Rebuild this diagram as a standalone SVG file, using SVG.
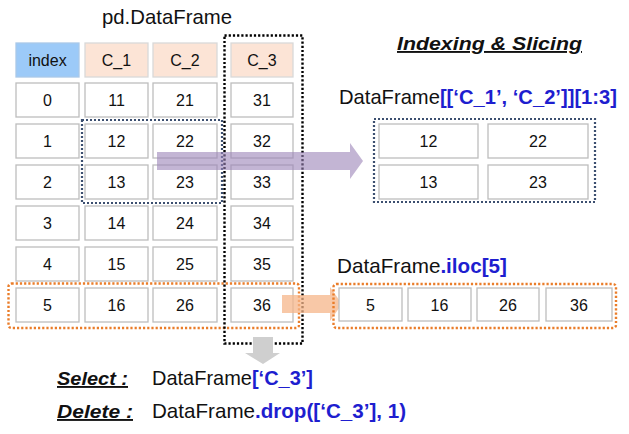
<svg xmlns="http://www.w3.org/2000/svg" width="629" height="434" viewBox="0 0 629 434">
<style>
text{font-family:"Liberation Sans",Arial,sans-serif;fill:#111}
.c rect{fill:#fff;stroke:#bdbdbd;stroke-width:1.3}
.c text{font-size:16px;text-anchor:middle}
.h rect{fill:#fce4d6;stroke:#d9d9d9;stroke-width:1.3}
.hi rect{fill:#9ccaf8;stroke:#aac8e8;stroke-width:1.3}
.lbl{font-size:21px}
.b{font-weight:bold;fill:#1e1ecf}
.bi{font-size:19px;font-weight:bold;font-style:italic;text-decoration:underline}
.dotb{fill:none;stroke:#3c4f70;stroke-width:2.2;stroke-dasharray:2 2}
.doto{fill:none;stroke:#ea7d2a;stroke-width:2.4;stroke-dasharray:2.2 2}
.dotk{fill:none;stroke:#000;stroke-width:2.4;stroke-dasharray:2.2 2}
</style>
<rect width="629" height="434" fill="#fff"/>
<text class="lbl" x="102" y="24" textLength="130" lengthAdjust="spacingAndGlyphs">pd.DataFrame</text>
<text class="bi" x="397" y="50" textLength="185" lengthAdjust="spacingAndGlyphs">Indexing &amp; Slicing</text>

<g id="table">
<g class="c hi"><rect x="16" y="43" width="63" height="34"/><text x="47.5" y="66">index</text></g>
<g class="c h"><rect x="85" y="43" width="63" height="34"/><text x="116.5" y="66">C_1</text></g>
<g class="c h"><rect x="153" y="43" width="64" height="34"/><text x="185" y="66">C_2</text></g>
<g class="c h"><rect x="231" y="43" width="62" height="34"/><text x="262" y="66">C_3</text></g>
<g class="c">
<rect x="16" y="83" width="63" height="34"/><text x="47.5" y="106">0</text>
<rect x="85" y="83" width="63" height="34"/><text x="116.5" y="106">11</text>
<rect x="153" y="83" width="64" height="34"/><text x="185" y="106">21</text>
<rect x="231" y="83" width="62" height="34"/><text x="262" y="106">31</text>
<rect x="16" y="124" width="63" height="34"/><text x="47.5" y="147">1</text>
<rect x="85" y="124" width="63" height="34"/><text x="116.5" y="147">12</text>
<rect x="153" y="124" width="64" height="34"/><text x="185" y="147">22</text>
<rect x="231" y="124" width="62" height="34"/><text x="262" y="147">32</text>
<rect x="16" y="165" width="63" height="34"/><text x="47.5" y="188">2</text>
<rect x="85" y="165" width="63" height="34"/><text x="116.5" y="188">13</text>
<rect x="153" y="165" width="64" height="34"/><text x="185" y="188">23</text>
<rect x="231" y="165" width="62" height="34"/><text x="262" y="188">33</text>
<rect x="16" y="206" width="63" height="34"/><text x="47.5" y="229">3</text>
<rect x="85" y="206" width="63" height="34"/><text x="116.5" y="229">14</text>
<rect x="153" y="206" width="64" height="34"/><text x="185" y="229">24</text>
<rect x="231" y="206" width="62" height="34"/><text x="262" y="229">34</text>
<rect x="16" y="247" width="63" height="34"/><text x="47.5" y="270">4</text>
<rect x="85" y="247" width="63" height="34"/><text x="116.5" y="270">15</text>
<rect x="153" y="247" width="64" height="34"/><text x="185" y="270">25</text>
<rect x="231" y="247" width="62" height="34"/><text x="262" y="270">35</text>
<rect x="16" y="288" width="63" height="34"/><text x="47.5" y="311">5</text>
<rect x="85" y="288" width="63" height="34"/><text x="116.5" y="311">16</text>
<rect x="153" y="288" width="64" height="34"/><text x="185" y="311">26</text>
<rect x="231" y="288" width="62" height="34"/><text x="262" y="311">36</text>
</g>
<rect class="dotb" x="82" y="120" width="140" height="83"/>
<rect class="doto" x="8.5" y="283.5" width="290.5" height="44.5" rx="3"/>
<rect class="dotk" x="224.5" y="35.5" width="78" height="308"/>
</g>

<g id="connectors">
<path d="M253,337 H273 V353 H280 L263,364 L245,353 H253 Z" fill="#cfcfcf"/>
<path d="M157,152 H350 V143 L363,161 L350,179 V170 H157 Z" fill="#9b84b8" fill-opacity="0.6"/>
<path d="M282,295 H330 V287 L342,304 L330,321 V313 H282 Z" fill="#f6b68a" fill-opacity="0.75"/>
</g>

<g id="slice">
<text class="lbl" x="339" y="104" textLength="278" lengthAdjust="spacingAndGlyphs">DataFrame<tspan class="b">[[‘C_1’, ‘C_2’]][1:3]</tspan></text>
<g class="c">
<rect x="379" y="124" width="99" height="34"/><text x="428.5" y="147">12</text>
<rect x="488" y="124" width="100" height="34"/><text x="538" y="147">22</text>
<rect x="379" y="165" width="99" height="34"/><text x="428.5" y="188">13</text>
<rect x="488" y="165" width="100" height="34"/><text x="538" y="188">23</text>
</g>
<rect class="dotb" x="374" y="119" width="221" height="83"/>
</g>

<g id="iloc">
<text class="lbl" x="337" y="273" textLength="170" lengthAdjust="spacingAndGlyphs">DataFrame<tspan class="b">.iloc[5]</tspan></text>
<g class="c">
<rect x="339" y="288" width="63" height="33"/><text x="370.5" y="311">5</text>
<rect x="408" y="288" width="63" height="33"/><text x="439.5" y="311">16</text>
<rect x="477" y="288" width="62" height="33"/><text x="508" y="311">26</text>
<rect x="546" y="288" width="66" height="33"/><text x="579" y="311">36</text>
</g>
<rect class="doto" x="333.5" y="284" width="282.5" height="44" rx="3"/>
</g>

<g id="select">
<text class="bi" x="57" y="385" textLength="71" lengthAdjust="spacingAndGlyphs">Select :</text>
<text class="lbl" x="152" y="385" textLength="161" lengthAdjust="spacingAndGlyphs">DataFrame<tspan class="b">[‘C_3’]</tspan></text>
</g>
<g id="delete">
<text class="bi" x="57" y="418" textLength="76" lengthAdjust="spacingAndGlyphs">Delete :</text>
<text class="lbl" x="152" y="418" textLength="254" lengthAdjust="spacingAndGlyphs">DataFrame<tspan class="b">.drop([‘C_3’], 1)</tspan></text>
</g>
</svg>
